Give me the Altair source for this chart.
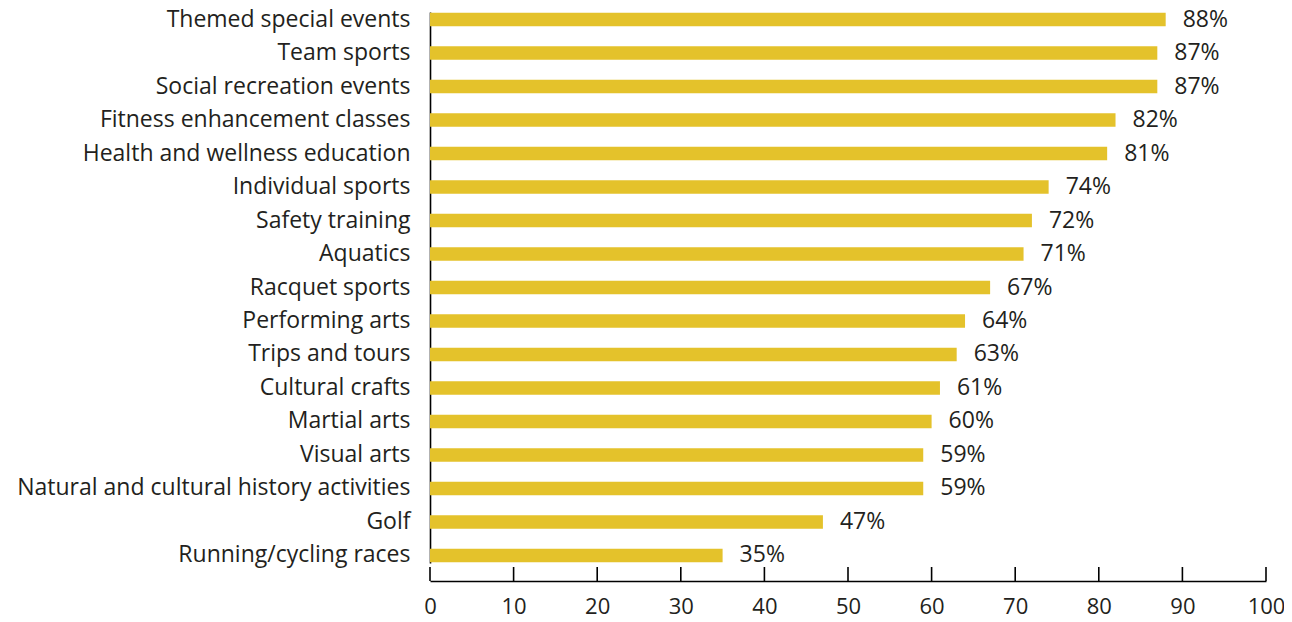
import altair as alt
import pandas as pd

categories = [
    "Themed special events", "Team sports", "Social recreation events",
    "Fitness enhancement classes", "Health and wellness education",
    "Individual sports", "Safety training", "Aquatics", "Racquet sports",
    "Performing arts", "Trips and tours", "Cultural crafts", "Martial arts",
    "Visual arts", "Natural and cultural history activities", "Golf",
    "Running/cycling races",
]
values = [88, 87, 87, 82, 81, 74, 72, 71, 67, 64, 63, 61, 60, 59, 59, 47, 35]
tick_values = list(range(0, 101, 10))

df = pd.DataFrame({"category": categories, "value": values})
df["label"] = df["value"].astype(str) + "%"
ticks = pd.DataFrame({"t": tick_values})

W, H = 836, 569
FONT = "Open Sans"
FS = 23
TXT = "#231f20"
BAR = "#e4c22b"

xscale = alt.Scale(domain=[0, 100], nice=False)
yscale = alt.Scale(domain=categories, range=[0, 551], paddingInner=0.6, paddingOuter=0.025)

bars = alt.Chart(df).mark_bar(color=BAR).encode(
    x=alt.X("value:Q", scale=xscale,
            axis=alt.Axis(values=tick_values, title=None, tickSize=0, labelPadding=15,
                          labelFont=FONT, labelFontSize=22, labelColor=TXT,
                          domainColor="#000", domainWidth=1.6, grid=False,
                          labelFlush=False)),
    y=alt.Y("category:N", scale=yscale, sort=categories,
            axis=alt.Axis(title=None, tickSize=0, labelPadding=20,
                          labelFont=FONT, labelFontSize=FS, labelColor=TXT,
                          domainColor="#000", domainWidth=1.6, labelLimit=500)),
)

text = alt.Chart(df).mark_text(align="left", baseline="middle", dx=17,
                               font=FONT, fontSize=FS, color=TXT).encode(
    x=alt.X("value:Q", scale=xscale),
    y=alt.Y("category:N", scale=yscale, sort=categories),
    text="label:N",
)

tickmarks = alt.Chart(ticks).mark_rule(color="#000", strokeWidth=1.6).encode(
    x=alt.X("t:Q", scale=xscale),
    y=alt.value(H - 14),
    y2=alt.value(H),
)

chart = alt.layer(bars, text, tickmarks).properties(
    width=W, height=H,
    autosize=alt.AutoSizeParams(type="none"),
    padding={"left": 422, "top": 4, "right": 18, "bottom": 45},
).configure(background="white").configure_view(stroke=None)

chart.save("out.html", embed_options={"renderer": "svg", "actions": False})
